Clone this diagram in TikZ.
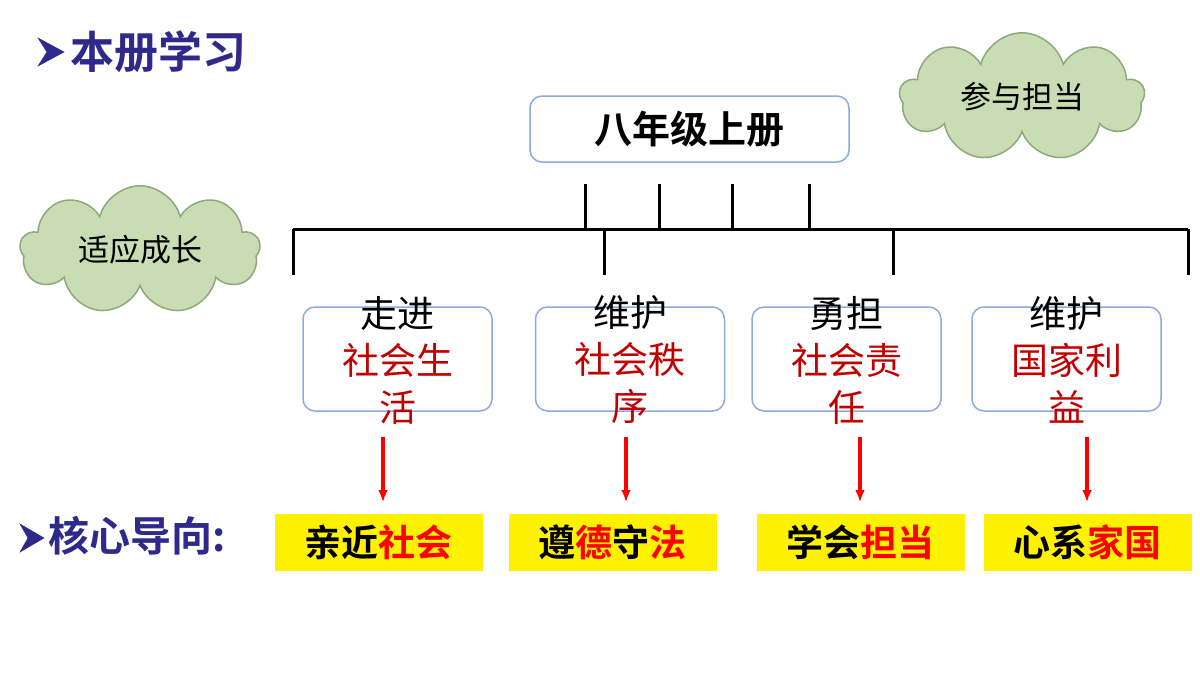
\documentclass[tikz,border=0pt]{standalone}
\usepackage{fontspec}
\setmainfont{Noto Sans CJK SC}
\newfontfamily\cjkb{Noto Sans CJK SC Bold}
\usetikzlibrary{shapes.symbols,arrows.meta}
\definecolor{navy}{HTML}{2E2A8C}
\definecolor{boxline}{HTML}{8EA9DB}
\definecolor{darkred}{HTML}{C00000}
\definecolor{cloudfill}{HTML}{C9DDB4}
\definecolor{cloudline}{HTML}{8FA87A}
\begin{document}
\begin{tikzpicture}
	[
	x=1pt, y=-1pt,
	> = {Latex[length=12pt,width=10pt]},
	topic/.style = {draw=boxline, rounded corners=12pt, line width=1.5pt, inner sep=0pt},
	cloudy/.style = {cloud, cloud puffs=9, aspect=2, draw=cloudline, fill=cloudfill, line width=1.5pt, inner sep=0pt, font=\fontsize{31}{33}\selectfont},
	goal/.style = {fill=yellow, minimum width=208pt, minimum height=57pt, inner sep=0pt, font=\cjkb\fontsize{37}{39}\selectfont},
	part/.style = {align=center, font=\fontsize{37}{47}\selectfont},
	bar/.style = {line width=3pt},
	tip/.style = {fill=navy, draw=navy, line width=0.5pt}
	]
		\useasboundingbox (0,0) rectangle (1200,675);

		% headings
		\fill[tip] (38,38) -- (64,52) -- (38,66) -- (47,52) -- cycle;
		\node[anchor=west, inner sep=0pt, text=navy, font=\cjkb\fontsize{44}{46}\selectfont] (head) at (70,52) {本册学习};
		\fill[tip] (20,524) -- (44,538) -- (20,552) -- (28,538) -- cycle;
		\node[anchor=west, inner sep=0pt, text=navy, font=\cjkb\fontsize{41}{43}\selectfont] (core) at (48,536) {核心导向:};

		% clouds
		\node[cloudy, minimum width=245pt, minimum height=112pt] (join) at (1022,97) {参与担当};
		\node[cloudy, minimum width=240pt, minimum height=108pt] (grow) at (140,250) {适应成长};

		% book
		\node[topic, minimum width=319pt, minimum height=66pt, font=\cjkb\fontsize{38}{40}\selectfont] (book) at (689.5,129) {八年级上册};

		% bracket
		\coordinate (hl) at (293,229);
		\coordinate (hr) at (1188,229);
		\draw[bar] (hl) -- (hr);
		\foreach \x in {585,659,732,809}
			\draw[bar] (\x,184) -- (\x,229);
		\foreach \x in {293,604,893,1188}
			\draw[bar] (\x,229) -- (\x,275);

		% units
		\foreach \n/\x/\a/\b/\c in {u1/397.5/走进/社会生/活, u2/630/维护/社会秩/序, u3/846.5/勇担/社会责/任, u4/1066.5/维护/国家利/益}
		{
			\node[topic, minimum width=189pt, minimum height=104pt] (\n) at (\x,359) {};
			\node[part] (\n t) at (\x,360) {\a\\\textcolor{darkred}{\b}\\\textcolor{darkred}{\c}};
		}

		% goals
		\node[goal] (g1) at (378.5,542.5) {亲近\textcolor{red}{社会}};
		\node[goal] (g2) at (612.5,542.5) {遵\textcolor{red}{德}守\textcolor{red}{法}};
		\node[goal] (g3) at (860.5,542.5) {学会\textcolor{red}{担当}};
		\node[goal] (g4) at (1087.5,542.5) {心系\textcolor{red}{家国}};

		% arrows
		\foreach \n/\x in {1/383,2/626,3/860,4/1087}
			\draw[->, red, line width=3.5pt] (\x,437) -- (\x,502);
	\end{tikzpicture}
\end{document}
